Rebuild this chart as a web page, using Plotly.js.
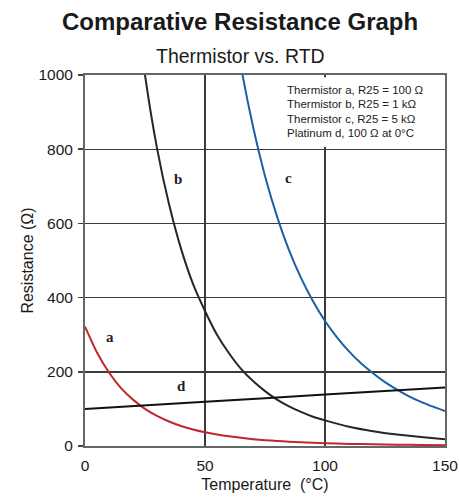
<!DOCTYPE html>
<html>
<head>
<meta charset="utf-8">
<script src="https://cdn.plot.ly/plotly-3.0.1.min.js"></script>
<style>html,body{margin:0;padding:0;background:#fff;}#chart{width:459px;height:502px;}</style>
</head>
<body>
<div id="chart"></div>
<script>
// Temperatures (°C) and resistances (Ω)
var tempA = [0, 5, 10, 15, 20, 25, 30, 35, 40, 45, 50, 55, 60, 65, 70, 75, 80, 85, 90, 95, 100, 110, 120, 130, 140, 150];
var resA  = [322, 252, 198, 156, 125, 100, 81, 66, 54, 44.5, 37, 31, 26, 22, 18.5, 15.7, 13.5, 11.6, 10, 8.6, 7.5, 5.7, 4.5, 3.5, 2.8, 2.2];

var tempB = [20, 25, 30, 35, 40, 45, 50, 55, 60, 65, 70, 75, 80, 85, 90, 95, 100, 110, 120, 130, 140, 150];
var resB  = [1257, 1000, 803, 652, 532, 437, 364, 300, 250, 208, 175, 148, 125, 107, 92, 79, 69, 52, 40, 31, 24, 18];

var tempC = [60, 65, 70, 75, 80, 85, 90, 95, 100, 105, 110, 115, 120, 125, 130, 135, 140, 145, 150];
var resC  = [1221, 1023, 861, 728, 619, 528, 453, 390, 337, 293, 255, 223, 196, 172, 152, 134, 119, 106, 94];

var tempD = [0, 50, 100, 150];
var resD  = [100, 119.4, 138.5, 157.7];

var curveLabels = ['a', 'b', 'c', 'd'];
var labelTemps  = [10.4, 38.9, 84.7, 40.3];
var labelRes    = [294, 719, 722, 161];

var legendLines = ['Thermistor a, R25 = 100 Ω', 'Thermistor b, R25 = 1 kΩ', 'Thermistor c, R25 = 5 kΩ', 'Platinum d, 100 Ω at 0°C'];
var legendRes   = [959, 921, 881, 843];

var titleText = 'Comparative Resistance Graph';
var subtitleText = 'Thermistor vs. RTD';
var xTitle = 'Temperature\u00a0 (°C)';
var yTitle = 'Resistance (Ω)';

var SANS = 'Arial, "Liberation Sans", sans-serif';
var SERIF = '"Times New Roman", "Liberation Serif", serif';

function lineTrace(x, y, color) {
  return {x: x, y: y, type: 'scatter', mode: 'lines',
          line: {color: color, width: 2, shape: 'spline', smoothing: 0.6},
          hoverinfo: 'skip', showlegend: false};
}

var traces = [
  lineTrace(tempA, resA, '#c0262c'),
  lineTrace(tempB, resB, '#262626'),
  lineTrace(tempC, resC, '#1d5fa6'),
  lineTrace(tempD, resD, '#111111')
];

var annotations = [
  {text: '<b>' + titleText + '</b>', xref: 'paper', yref: 'paper', x: 0.4306, y: 1.143,
   xanchor: 'center', yanchor: 'middle', showarrow: false, font: {family: SANS, size: 24, color: '#1a1a1a'}},
  {text: subtitleText, xref: 'paper', yref: 'paper', x: 0.4306, y: 1.05,
   xanchor: 'center', yanchor: 'middle', showarrow: false, font: {family: SANS, size: 19.5, color: '#1a1a1a'}}
];
curveLabels.forEach(function (t, i) {
  annotations.push({text: '<b>' + t + '</b>', x: labelTemps[i], y: labelRes[i], xref: 'x', yref: 'y',
    showarrow: false, xanchor: 'center', yanchor: 'middle', font: {family: SERIF, size: 15, color: '#222'}});
});
legendLines.forEach(function (t, i) {
  annotations.push({text: t, x: 83.3, y: legendRes[i], xref: 'x', yref: 'y',
    showarrow: false, xanchor: 'left', yanchor: 'middle', font: {family: SANS, size: 11.5, color: '#222'}});
});

var layout = {
  width: 459, height: 502,
  margin: {l: 85, r: 14, t: 75, b: 56},
  paper_bgcolor: '#ffffff', plot_bgcolor: '#ffffff',
  showlegend: false,
  font: {family: SANS, color: '#1a1a1a'},
  xaxis: {
    range: [0, 150], dtick: 50, tick0: 0, showgrid: true, gridcolor: '#3a3a3a', gridwidth: 1.4,
    zeroline: false, showline: true, mirror: true, linecolor: '#666', linewidth: 2,
    ticks: '', ticklabelstandoff: 4, tickfont: {family: SANS, size: 15.5, color: '#1a1a1a'},
    title: {text: xTitle, font: {family: SANS, size: 16, color: '#1a1a1a'}, standoff: 6},
    fixedrange: true
  },
  yaxis: {
    range: [0, 1000], dtick: 200, tick0: 0, showgrid: true, gridcolor: '#3a3a3a', gridwidth: 1.4,
    zeroline: false, showline: true, mirror: true, linecolor: '#666', linewidth: 2,
    ticks: 'outside', ticklen: 5, tickcolor: '#444', tickwidth: 1.5, ticklabelstandoff: 2,
    tickfont: {family: SANS, size: 15.5, color: '#1a1a1a'},
    title: {text: yTitle, font: {family: SANS, size: 16, color: '#1a1a1a'}, standoff: 1},
    fixedrange: true
  },
  shapes: [
    {type: 'rect', xref: 'x', yref: 'y', x0: 81.3, x1: 149.3, y0: 806, y1: 994,
     fillcolor: '#ffffff', line: {width: 0}, layer: 'between'}
  ],
  annotations: annotations
};

Plotly.newPlot('chart', traces, layout, {staticPlot: true, displayModeBar: false});
</script>
</body>
</html>
